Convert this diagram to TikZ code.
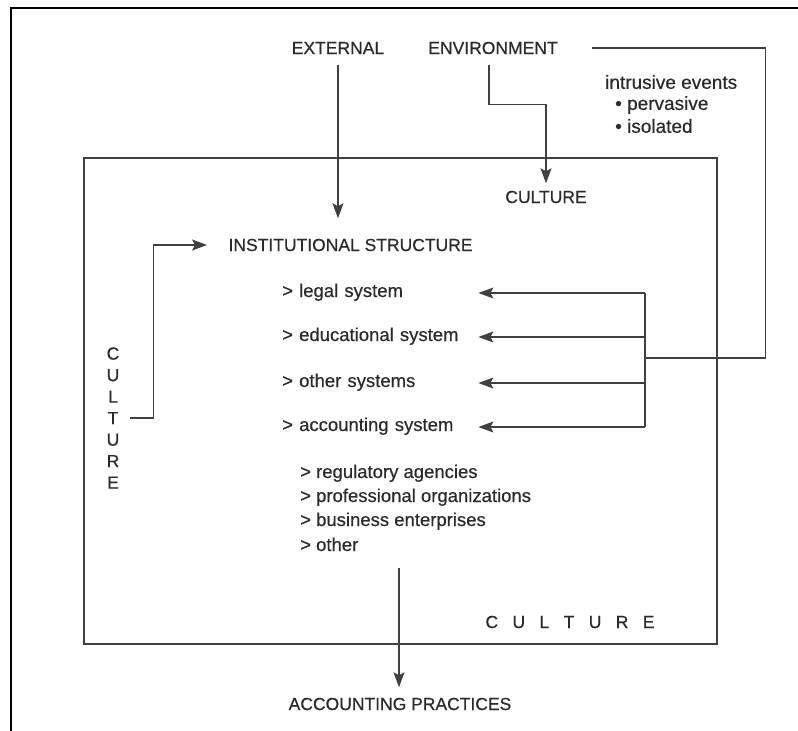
\documentclass[tikz,border=0pt]{standalone}
\usepackage{fontspec}
\setmainfont{Liberation Sans}[FakeBold=0.5]
\usetikzlibrary{arrows.meta}
\definecolor{ink}{HTML}{2a2a2a}
\definecolor{wire}{HTML}{404040}

\begin{document}
\begin{tikzpicture}[
  x=1pt, y=-1pt,
  capsnode/.style={text=ink, font=\fontsize{17.5}{21.5}\selectfont},
  sysnode/.style={text=ink, font=\fontsize{18.5}{22}\selectfont, anchor=west, inner sep=0pt,
    text width=196pt, align=left, text height=12pt, text depth=4pt},
  itemnode/.style={text=ink, font=\fontsize{18.5}{22}\selectfont, anchor=west, inner sep=0pt,
    text height=12pt, text depth=4pt},
  eventnode/.style={text=ink, font=\fontsize{19}{22}\selectfont, anchor=west, inner sep=0pt},
  plainline/.style={draw=wire, line width=1.1pt},
  arrowline/.style={plainline, -{Stealth[length=15pt, width=11pt, inset=3pt]}},
  ]

\useasboundingbox (0,0) rectangle (798,731);

% frame and culture box
\draw[line width=2.5pt] (11,731) -- (11,8) -- (798,8);
\draw[plainline, line width=1.3pt] (84,158) rectangle (717,644);

\node[capsnode] (ext) at (338,48) {EXTERNAL};
\node[capsnode] (env) at (493,48) {ENVIRONMENT};

\node[eventnode] (intr) at (605,82) {intrusive events};
\node[eventnode] (perv) at (615,105) {\textbullet\ pervasive};
\node[eventnode] (isol) at (615,126) {\textbullet\ isolated};

\node[capsnode] (cultop) at (546,197) {CULTURE};
\node[capsnode, anchor=west] (inst) at (225,245) {INSTITUTIONAL STRUCTURE};
\node[capsnode, align=center] (culleft) at (113,418) {C\\U\\L\\T\\U\\R\\E};

\node[sysnode] (legal) at (282,293) {> legal system};
\node[sysnode] (edu) at (282,337) {> educational system};
\node[sysnode] (other) at (282,383) {> other systems};
\node[sysnode] (acct) at (282,427) {> accounting system};

\node[itemnode] (reg) at (300,474) {> regulatory agencies};
\node[itemnode] (prof) at (300,498) {> professional organizations};
\node[itemnode] (bus) at (300,522) {> business enterprises};
\node[itemnode] (oth) at (300,547) {> other};

\node[capsnode] (culbot) at (570,622) {C\hspace{14.4pt}U\hspace{14.4pt}L\hspace{14.4pt}T\hspace{14.4pt}U\hspace{14.4pt}R\hspace{14.4pt}E};
\node[capsnode] (acctp) at (400,704) {ACCOUNTING PRACTICES};

\coordinate (bar) at (645,358);
\coordinate (out) at (399,568);

\draw[arrowline, shorten <=7pt, shorten >=17pt] (ext) -- (ext |- inst.north);
\draw[arrowline, shorten <=7pt, shorten >=4pt] ([xshift=-4pt]env.south) -- ++(0,47) -| (cultop.north);
\draw[arrowline, shorten <=7.5pt, shorten >=18pt] (culleft.east) -- ++(30.5,0) |- (inst.west);

\draw[plainline, shorten <=31pt] (env.east) -- ++(204,0) |- (bar);
\draw[plainline] (bar |- legal.east) -- (bar |- acct.east);
\draw[arrowline] (bar |- legal.east) -- (legal.east);
\draw[arrowline] (bar |- edu.east) -- (edu.east);
\draw[arrowline] (bar |- other.east) -- (other.east);
\draw[arrowline] (bar |- acct.east) -- (acct.east);

\draw[arrowline, shorten >=7pt] (out) -- (out |- acctp.north);

\end{tikzpicture}
\end{document}
